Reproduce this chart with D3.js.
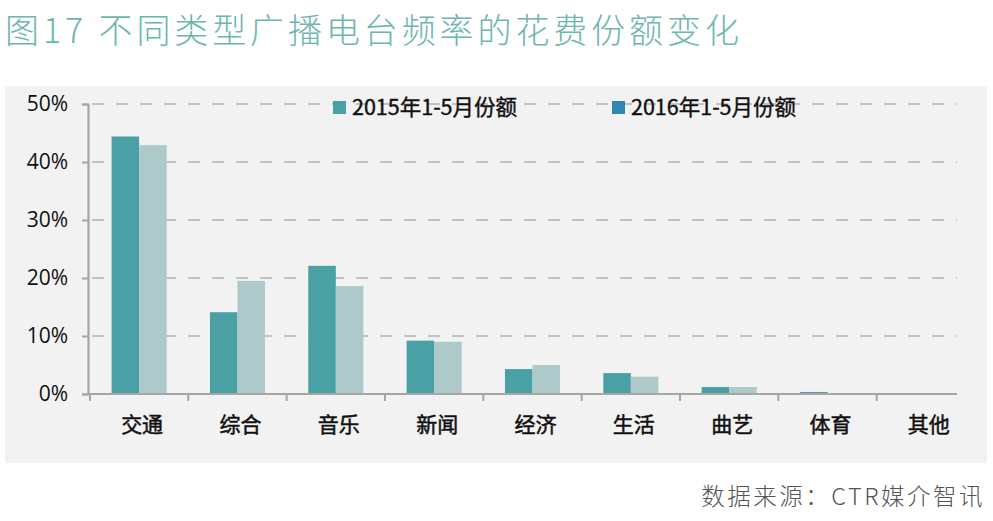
<!DOCTYPE html>
<html>
<head>
<meta charset="utf-8">
<script src="https://cdnjs.cloudflare.com/ajax/libs/d3/7.8.5/d3.min.js"></script>
<style>
  body { margin: 0; background: #fff; }
  svg { display: block; font-family: "Noto Sans CJK SC", "Noto Sans", sans-serif; }
</style>
</head>
<body>
<svg id="chart" width="993" height="521"></svg>
<script>
// categories and series
var categories = ["交通", "综合", "音乐", "新闻", "经济", "生活", "曲艺", "体育", "其他"];
var seriesNames = ["2015年1-5月份额", "2016年1-5月份额"];
var share2015 = [44.4, 14.1, 22.1, 9.2, 4.3, 3.6, 1.2, 0.35, 0.05];
var share2016 = [42.9, 19.5, 18.6, 9.0, 5.0, 3.0, 1.2, 0.15, 0.05];
var yTicks = [0, 10, 20, 30, 40, 50];

var svg = d3.select("#chart");

// title
svg.append("text")
    .attr("x", 5).attr("y", 43)
    .attr("fill", "#6db6ad")
    .style("font-size", "34px")
    .style("font-weight", 300)
    .style("letter-spacing", "3.9px")
    .text("图17 不同类型广播电台频率的花费份额变化");

// gray panel
svg.append("rect")
    .attr("x", 5).attr("y", 86)
    .attr("width", 982).attr("height", 377)
    .attr("fill", "#f2f2f2");

var left = 88, right = 977, axisEnd = 957;
var x = d3.scaleBand().domain(categories).range([left, right]).paddingInner(0.44).paddingOuter(0.24);
var sub = d3.scaleBand().domain([0, 1]).range([0, x.bandwidth()]);
var y = d3.scaleLinear().domain([0, 50]).range([394, 104]);

// grid lines
svg.append("g").selectAll("line")
    .data(yTicks.filter(function(d) { return d > 0; }))
    .enter().append("line")
    .attr("x1", left + 4).attr("x2", axisEnd)
    .attr("y1", function(d) { return y(d); })
    .attr("y2", function(d) { return y(d); })
    .attr("stroke", "#b3b3b3")
    .attr("stroke-width", 1.3)
    .attr("stroke-dasharray", "12,12");

// bars
var rows = categories.map(function(c, i) { return { cat: c, vals: [share2015[i], share2016[i]] }; });
var colors = ["#49a1a6", "#adc9ca"];
var groups = svg.append("g").selectAll("g")
    .data(rows).enter().append("g")
    .attr("transform", function(d) { return "translate(" + x(d.cat) + ",0)"; });
groups.selectAll("rect")
    .data(function(d) { return d.vals; })
    .enter().append("rect")
    .attr("x", function(d, i) { return sub(i); })
    .attr("width", sub.bandwidth())
    .attr("y", function(d) { return y(d); })
    .attr("height", function(d) { return y(0) - y(d); })
    .attr("fill", function(d, i) { return colors[i]; });

// y axis
var yAxis = d3.axisLeft(y).tickValues(yTicks).tickSize(6).tickFormat(function(d) { return d + "%"; });
var yg = svg.append("g").attr("transform", "translate(" + left + ",0)").call(yAxis);
yg.select(".domain").attr("stroke", "#a6a6a6").attr("stroke-width", 2.2);
yg.selectAll(".tick line").attr("stroke", "#a6a6a6").attr("stroke-width", 2);
yg.selectAll(".tick text")
    .attr("x", -20)
    .attr("fill", "#111")
    .style("font-family", "'Open Sans', 'Noto Sans', sans-serif")
    .style("font-size", "21px");

// x axis line
svg.append("line")
    .attr("x1", left).attr("x2", axisEnd)
    .attr("y1", y(0)).attr("y2", y(0))
    .attr("stroke", "#a6a6a6").attr("stroke-width", 2);

// x ticks at category boundaries
var step = x.step();
svg.append("g").selectAll("line")
    .data(categories)
    .enter().append("line")
    .attr("x1", function(d) { return x(d) - step * 0.22; })
    .attr("x2", function(d) { return x(d) - step * 0.22; })
    .attr("y1", y(0)).attr("y2", y(0) + 7)
    .attr("stroke", "#a6a6a6").attr("stroke-width", 2);

// x labels
svg.append("g").selectAll("text")
    .data(categories)
    .enter().append("text")
    .attr("x", function(d) { return x(d) + x.bandwidth() / 2 + 3; })
    .attr("y", 432)
    .attr("text-anchor", "middle")
    .attr("fill", "#111")
    .attr("stroke", "#111")
    .attr("stroke-width", 0.5)
    .style("font-size", "21px")
    .text(function(d) { return d; });

// legend
var legendColors = ["#49a1a6", "#2e88b0"];
var legendX = [333, 612];
var lg = svg.append("g").selectAll("g")
    .data(seriesNames).enter().append("g")
    .attr("transform", function(d, i) { return "translate(" + legendX[i] + ",101)"; });
lg.append("rect")
    .attr("width", 13).attr("height", 13)
    .attr("fill", function(d, i) { return legendColors[i]; });
lg.append("text")
    .attr("x", 19).attr("y", 14)
    .attr("fill", "#111")
    .attr("stroke", "#111")
    .attr("stroke-width", 0.4)
    .style("font-size", "21.5px")
    .text(function(d) { return d; });

// source
svg.append("text")
    .attr("x", 985).attr("y", 505)
    .attr("text-anchor", "end")
    .attr("fill", "#555")
    .style("font-size", "23.5px")
    .style("font-weight", 300)
    .style("letter-spacing", "2.5px")
    .text("数据来源：CTR媒介智讯");
</script>
</body>
</html>
